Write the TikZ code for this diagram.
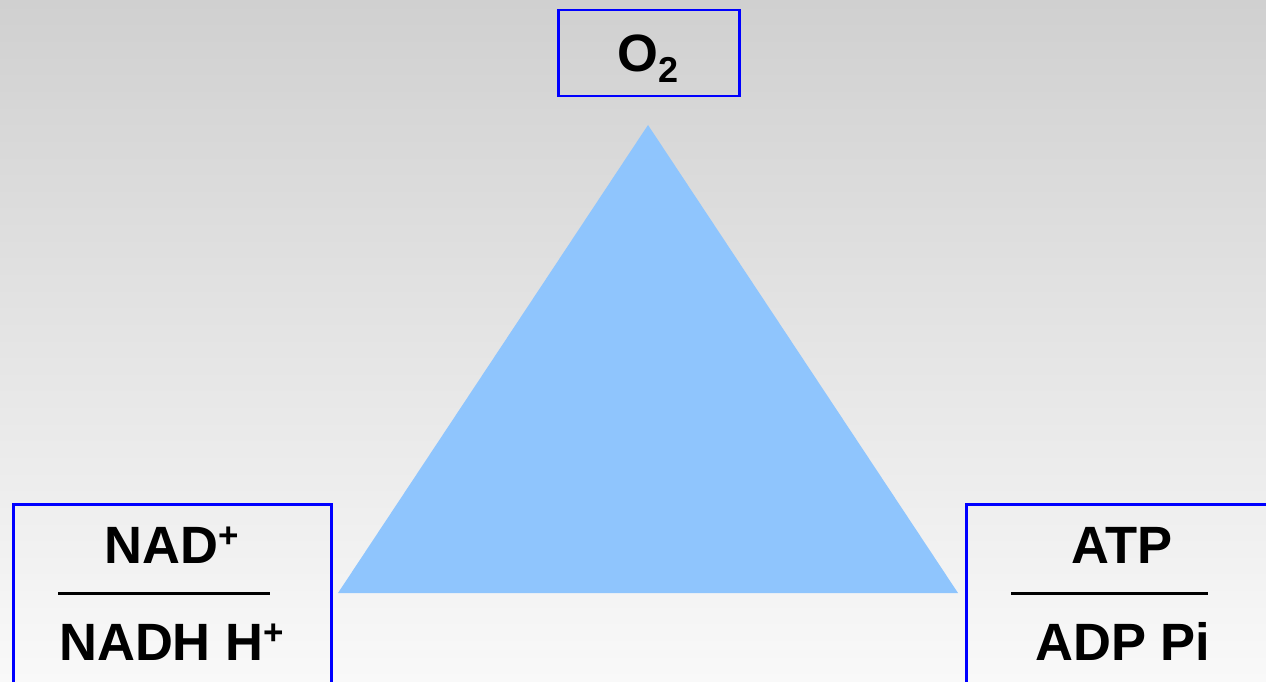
\documentclass[tikz,border=0pt]{standalone}
\usepackage{fontspec}
\setmainfont{Liberation Sans}
\definecolor{bgtop}{RGB}{208,208,208}
\definecolor{bgbot}{RGB}{249,249,249}
\definecolor{tri}{RGB}{143,197,253}
\definecolor{boxblue}{RGB}{0,0,255}
\newcommand{\supplus}{{\fontsize{35}{35}\selectfont\raisebox{16pt}{+}}}
\begin{document}
\begin{tikzpicture}[x=1pt,y=-1pt,
  bluebox/.style={draw=boxblue,line width=2.5pt,inner sep=0pt,anchor=north west},
  label/.style={inner sep=0pt,anchor=base,font=\bfseries\fontsize{52.5}{52.5}\selectfont},
  bar/.style={line width=3pt,black}]
\useasboundingbox (0,0) rectangle (1266,682);
\shade[top color=bgtop,bottom color=bgbot] (0,0) rectangle (1266,682);
% triangle
\fill[tri] (648,125) -- (338,593) -- (958,593) -- cycle;
% boxes
\node[bluebox,minimum width=181pt,minimum height=86pt] (o2box) at (557,9) {};
\node[bluebox,minimum width=318pt,minimum height=200pt] (leftbox) at (12,503) {};
\node[bluebox,minimum width=320pt,minimum height=200pt] (rightbox) at (965,503) {};
% texts
\node[label] (o2) at (648,72) {O{\fontsize{36}{36}\selectfont\raisebox{-11pt}{2}}};
\node[label] (nad) at (172,563) {NAD\supplus};
\node[label] (nadh) at (171.5,660) {NADH H\supplus};
\node[label] (atp) at (1122,563) {ATP};
\node[label] (adp) at (1123,660) {ADP Pi};
% fraction bars
\coordinate (l1) at (58,593); \coordinate (l2) at (270,593);
\coordinate (r1) at (1011,593); \coordinate (r2) at (1208,593);
\draw[bar] (l1) -- (l2);
\draw[bar] (r1) -- (r2);
\end{tikzpicture}
\end{document}
